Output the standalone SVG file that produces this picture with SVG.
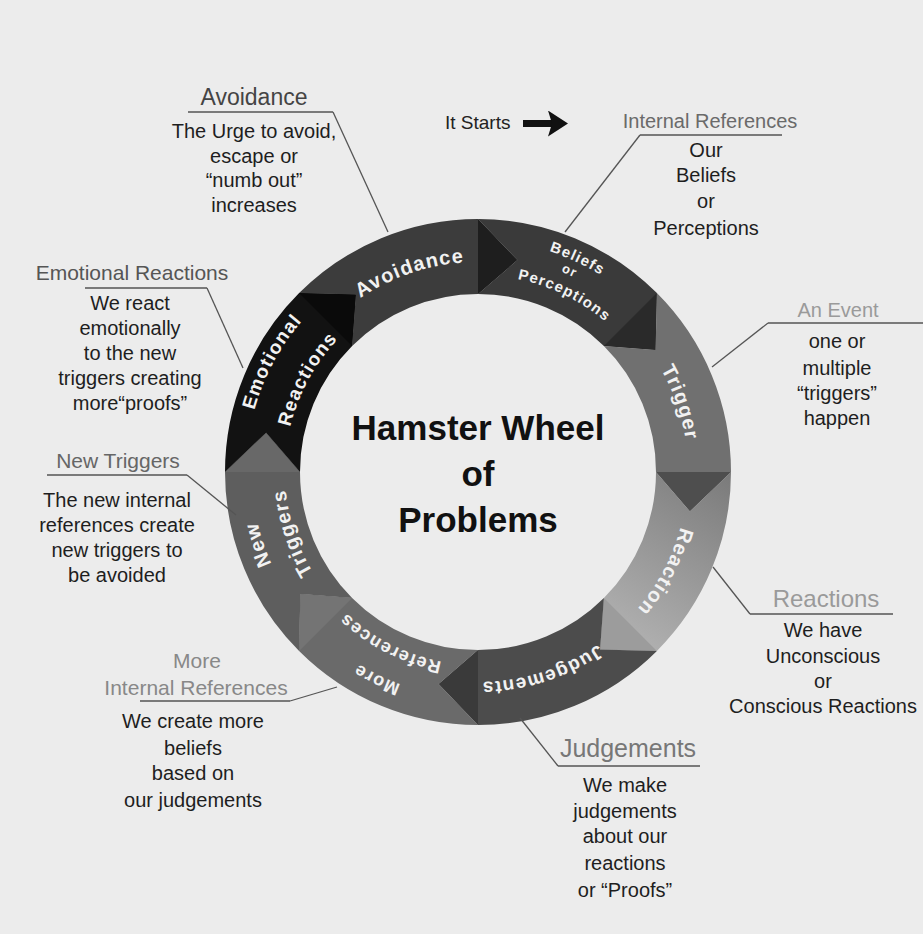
<svg xmlns="http://www.w3.org/2000/svg" xmlns:xlink="http://www.w3.org/1999/xlink" width="923" height="934" viewBox="0 0 923 934">
<style>
.bg{fill:#ececec}
.ring text{fill:#f2f2f2;font-family:"Liberation Sans",Arial,sans-serif;font-weight:bold;letter-spacing:1.2px}
.hd{font-family:"Liberation Sans",Arial,sans-serif;text-anchor:middle}
.bd{font-family:"Liberation Sans",Arial,sans-serif;font-size:20px;fill:#1e1e1e;text-anchor:middle}
.ul{stroke:#555;stroke-width:1.3;fill:none}
.ld{stroke:#555;stroke-width:1.3;fill:none}
.title{font-family:"Liberation Sans",Arial,sans-serif;font-weight:bold;font-size:35px;fill:#111;text-anchor:middle}
</style>
<defs>
<linearGradient id="gReact" gradientUnits="userSpaceOnUse" x1="731" y1="472" x2="620" y2="650">
<stop offset="0" stop-color="#7a7a7a"/>
<stop offset="1" stop-color="#b4b4b4"/>
</linearGradient>
<marker id="arr" viewBox="0 0 20 26" refX="4" refY="13" markerWidth="20" markerHeight="26" markerUnits="userSpaceOnUse" orient="auto">
<path d="M0,0 L20,13 L0,26 L4,13 Z" fill="#111"/>
</marker>
<path id="r232" d="M478,240 A232,232 0 1 1 478,704 A232,232 0 1 1 478,240 A232,232 0 1 1 478,704 A232,232 0 1 1 478,240"/>
<path id="r226" d="M478,246 A226,226 0 1 1 478,698 A226,226 0 1 1 478,246 A226,226 0 1 1 478,698 A226,226 0 1 1 478,246"/>
<path id="r217" d="M478,255 A217,217 0 1 1 478,689 A217,217 0 1 1 478,255 A217,217 0 1 1 478,689 A217,217 0 1 1 478,255"/>
<path id="r210" d="M478,262 A210,210 0 1 1 478,682 A210,210 0 1 1 478,262 A210,210 0 1 1 478,682 A210,210 0 1 1 478,262"/>
<path id="r197" d="M478,275 A197,197 0 1 1 478,669 A197,197 0 1 1 478,275 A197,197 0 1 1 478,669 A197,197 0 1 1 478,275"/>
<path id="r193" d="M478,279 A193,193 0 1 1 478,665 A193,193 0 1 1 478,279 A193,193 0 1 1 478,665 A193,193 0 1 1 478,279"/>
</defs>
<rect class="bg" x="0" y="0" width="923" height="934"/>

<g id="wheel" class="ring">
<g id="seg-avoidance">
<path d="M299.1,293.1 A253,253 0 0 1 478,219 L517.3,260.1 L478,294 A178,178 0 0 0 352.1,346.1 L355.9,294.4 Z" fill="#3c3c3c"/>
<path d="M478,219 L517.3,260.1 L478,294 Z" fill="#1e1e1e"/>
<text font-size="20"><textPath xlink:href="#r210" startOffset="1249.8" text-anchor="middle">Avoidance</textPath></text>
</g>
<g id="seg-beliefs">
<path d="M478,219 A253,253 0 0 1 656.9,293.1 L655.6,349.9 L603.9,346.1 A178,178 0 0 0 478,294 L517.3,260.1 Z" fill="#3a3a3a"/>
<path d="M656.9,293.1 L655.6,349.9 L603.9,346.1 Z" fill="#2a2a2a"/>
<text font-size="15"><textPath xlink:href="#r232" startOffset="101.2" text-anchor="middle">Beliefs</textPath></text>
<text font-size="13"><textPath xlink:href="#r217" startOffset="92.8" text-anchor="middle">or</textPath></text>
<text font-size="15"><textPath xlink:href="#r197" startOffset="89.4" text-anchor="middle">Perceptions</textPath></text>
</g>
<g id="seg-trigger">
<path d="M656.9,293.1 A253,253 0 0 1 731,472 L689.9,511.3 L656,472 A178,178 0 0 0 603.9,346.1 L655.6,349.9 Z" fill="#707070"/>
<path d="M731,472 L689.9,511.3 L656,472 Z" fill="#4e4e4e"/>
<text font-size="20"><textPath xlink:href="#r210" startOffset="260.2" text-anchor="middle">Trigger</textPath></text>
</g>
<g id="seg-reaction">
<path d="M731,472 A253,253 0 0 1 656.9,650.9 L600.1,649.6 L603.9,597.9 A178,178 0 0 0 656,472 L689.9,511.3 Z" fill="url(#gReact)"/>
<path d="M656.9,650.9 L600.1,649.6 L603.9,597.9 Z" fill="#9c9c9c"/>
<text font-size="20"><textPath xlink:href="#r210" startOffset="432.5" text-anchor="middle">Reaction</textPath></text>
</g>
<g id="seg-judgements">
<path d="M656.9,650.9 A253,253 0 0 1 478,725 L438.7,683.9 L478,650 A178,178 0 0 0 603.9,597.9 L600.1,649.6 Z" fill="#4c4c4c"/>
<path d="M478,725 L438.7,683.9 L478,650 Z" fill="#3a3a3a"/>
<text font-size="19"><textPath xlink:href="#r210" startOffset="593.8" text-anchor="middle">Judgements</textPath></text>
</g>
<g id="seg-more-references">
<path d="M478,725 A253,253 0 0 1 299.1,650.9 L300.4,594.1 L352.1,597.9 A178,178 0 0 0 478,650 L438.7,683.9 Z" fill="#6a6a6a"/>
<path d="M299.1,650.9 L300.4,594.1 L352.1,597.9 Z" fill="#747474"/>
<text font-size="18"><textPath xlink:href="#r226" startOffset="812.6" text-anchor="middle">More</textPath></text>
<text font-size="18"><textPath xlink:href="#r193" startOffset="697.3" text-anchor="middle">References</textPath></text>
</g>
<g id="seg-new-triggers">
<path d="M299.1,650.9 A253,253 0 0 1 225,472 L266.1,432.7 L300,472 A178,178 0 0 0 352.1,597.9 L300.4,594.1 Z" fill="#5e5e5e"/>
<path d="M225,472 L266.1,432.7 L300,472 Z" fill="#686868"/>
<text font-size="20"><textPath xlink:href="#r226" startOffset="992.4" text-anchor="middle">New</textPath></text>
<text font-size="20"><textPath xlink:href="#r193" startOffset="847.9" text-anchor="middle">Triggers</textPath></text>
</g>
<g id="seg-emotional-reactions">
<path d="M225,472 A253,253 0 0 1 299.1,293.1 L355.9,294.4 L352.1,346.1 A178,178 0 0 0 300,472 L266.1,432.7 Z" fill="#121212"/>
<path d="M299.1,293.1 L355.9,294.4 L352.1,346.1 Z" fill="#0a0a0a"/>
<text font-size="19"><textPath xlink:href="#r232" startOffset="1206.6" text-anchor="middle">Emotional</textPath></text>
<text font-size="19"><textPath xlink:href="#r193" startOffset="1005.5" text-anchor="middle">Reactions</textPath></text>
</g>
</g>

<g id="title">
<text class="title" x="478" y="440">Hamster Wheel</text>
<text class="title" x="478" y="486">of</text>
<text class="title" x="478" y="532">Problems</text>
</g>

<g id="connectors">
<line class="ld" x1="333" y1="112" x2="388" y2="232"/>
<line class="ld" x1="640" y1="135" x2="565" y2="232"/>
<line class="ld" x1="768" y1="323" x2="712" y2="367"/>
<line class="ld" x1="750" y1="614" x2="713" y2="567"/>
<line class="ld" x1="558" y1="766" x2="520" y2="718"/>
<line class="ld" x1="290" y1="701" x2="337" y2="687"/>
<line class="ld" x1="187" y1="475" x2="236" y2="515"/>
<line class="ld" x1="207" y1="288" x2="243" y2="368"/>
<line x1="523" y1="123.5" x2="552" y2="123.5" stroke="#111" stroke-width="7" marker-end="url(#arr)"/>
</g>

<g id="it-starts">
<text x="445" y="129" font-family="'Liberation Sans',Arial,sans-serif" font-size="19" fill="#222">It Starts</text>
</g>

<g id="note-avoidance">
<text class="hd" x="254" y="105" font-size="23" fill="#444">Avoidance</text>
<line class="ul" x1="188" y1="112" x2="333" y2="112"/>
<text class="bd" x="254" y="138">The Urge to avoid,</text>
<text class="bd" x="254" y="163">escape or</text>
<text class="bd" x="254" y="187">“numb out”</text>
<text class="bd" x="254" y="212">increases</text>
</g>

<g id="note-internal-references">
<text class="hd" x="710" y="128" font-size="20" fill="#6a6a6a">Internal References</text>
<line class="ul" x1="640" y1="135" x2="782" y2="135"/>
<text class="bd" x="706" y="157">Our</text>
<text class="bd" x="706" y="182">Beliefs</text>
<text class="bd" x="706" y="208">or</text>
<text class="bd" x="706" y="235">Perceptions</text>
</g>

<g id="note-event">
<text class="hd" x="838" y="317" font-size="20" fill="#9a9a9a">An Event</text>
<line class="ul" x1="768" y1="323" x2="923" y2="323"/>
<text class="bd" x="837" y="348">one or</text>
<text class="bd" x="837" y="375">multiple</text>
<text class="bd" x="837" y="400">“triggers”</text>
<text class="bd" x="837" y="425">happen</text>
</g>

<g id="note-reactions">
<text class="hd" x="826" y="607" font-size="24" fill="#9a9a9a">Reactions</text>
<line class="ul" x1="750" y1="614" x2="893" y2="614"/>
<text class="bd" x="823" y="637">We have</text>
<text class="bd" x="823" y="663">Unconscious</text>
<text class="bd" x="823" y="688">or</text>
<text class="bd" x="823" y="713">Conscious Reactions</text>
</g>

<g id="note-judgements">
<text class="hd" x="628" y="757" font-size="25" fill="#777">Judgements</text>
<line class="ul" x1="558" y1="766" x2="700" y2="766"/>
<text class="bd" x="625" y="792">We make</text>
<text class="bd" x="625" y="818">judgements</text>
<text class="bd" x="625" y="843">about our</text>
<text class="bd" x="625" y="870">reactions</text>
<text class="bd" x="625" y="897">or “Proofs”</text>
</g>

<g id="note-more-internal-references">
<text class="hd" x="197" y="668" font-size="21" fill="#888">More</text>
<text class="hd" x="196" y="695" font-size="21" fill="#888">Internal References</text>
<line class="ul" x1="140" y1="701" x2="290" y2="701"/>
<text class="bd" x="193" y="728">We create more</text>
<text class="bd" x="193" y="755">beliefs</text>
<text class="bd" x="193" y="780">based on</text>
<text class="bd" x="193" y="807">our judgements</text>
</g>

<g id="note-new-triggers">
<text class="hd" x="118" y="468" font-size="21" fill="#666">New Triggers</text>
<line class="ul" x1="47" y1="475" x2="187" y2="475"/>
<text class="bd" x="117" y="507">The new internal</text>
<text class="bd" x="117" y="532">references create</text>
<text class="bd" x="117" y="557">new triggers to</text>
<text class="bd" x="117" y="582">be avoided</text>
</g>

<g id="note-emotional-reactions">
<text class="hd" x="132" y="280" font-size="21" fill="#555">Emotional Reactions</text>
<line class="ul" x1="85" y1="288" x2="207" y2="288"/>
<text class="bd" x="130" y="310">We react</text>
<text class="bd" x="130" y="335">emotionally</text>
<text class="bd" x="130" y="360">to the new</text>
<text class="bd" x="130" y="385">triggers creating</text>
<text class="bd" x="130" y="410">more“proofs”</text>
</g>
</svg>
